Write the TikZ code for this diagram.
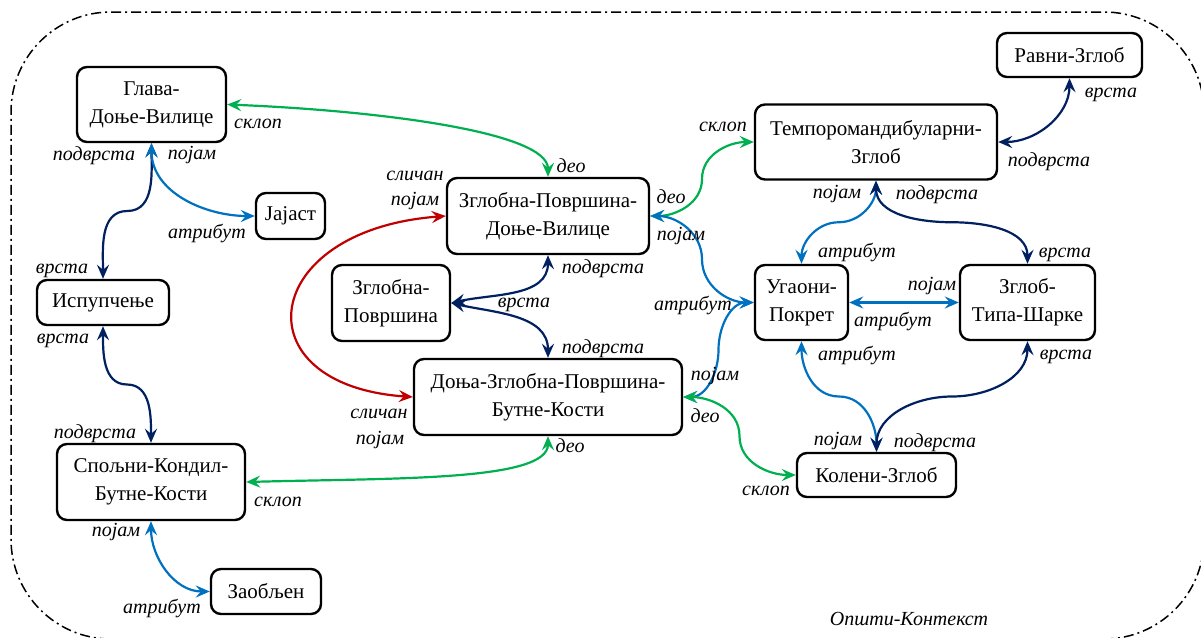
\documentclass[tikz,border=0pt]{standalone}
\usepackage{fontspec}
\setmainfont{Liberation Serif}
\usetikzlibrary{arrows.meta,calc}
\definecolor{cgreen}{RGB}{0,176,80}
\definecolor{cblue}{RGB}{0,112,192}
\definecolor{cnavy}{RGB}{0,32,96}
\definecolor{cred}{RGB}{192,0,0}

\begin{document}
\begin{tikzpicture}[x=1pt,y=1pt,
  box/.style={draw, line width=2.4pt, rounded corners=10pt, inner sep=0pt,
    align=center, font=\fontsize{21}{28}\selectfont},
  lbl/.style={anchor=base, inner sep=0pt, font=\fontsize{20}{25}\selectfont\itshape},
  link/.style={line width=2.2pt,
    {Stealth[length=14pt,width=12pt,inset=5pt]}-{Stealth[length=14pt,width=12pt,inset=5pt]}},
  partof/.style={link, draw=cgreen},
  kindof/.style={link, draw=cnavy},
  attrof/.style={link, draw=cblue},
  similar/.style={link, draw=cred},
  ctxframe/.style={line width=1.5pt, dash pattern=on 10pt off 4pt on 2pt off 4pt}
]
\useasboundingbox (0,0) rectangle (1201,-637);

% context frame: its right and bottom sides run along the page edge
\draw[ctxframe] (1204,-112) arc[start angle=0,end angle=90,radius=100]
  -- (111,-12) arc[start angle=90,end angle=180,radius=100]
  -- (11,-539) arc[start angle=180,end angle=270,radius=100];
\draw[ctxframe] (1104,-639) arc[start angle=270,end angle=360,radius=100];
\node[lbl] (ctx) at (909,-625) {Општи-Контекст};

% concepts
\node[box, minimum width=149pt, minimum height=75pt] (glava)  at (151.5,-104.5) {Глава-\\Доње-Вилице};
\node[box, minimum width=69pt,  minimum height=46pt] (jajast) at (290.5,-216) {Јајаст};
\node[box, minimum width=132pt, minimum height=45pt] (isp)    at (103,-302.5) {Испупчење};
\node[box, minimum width=188pt, minimum height=76pt] (spoljni) at (151,-482) {Спољни-Кондил-\\Бутне-Кости};
\node[box, minimum width=110pt, minimum height=45pt] (zaob)   at (266,-591.5) {Заобљен};
\node[box, minimum width=202pt, minimum height=76pt] (zpdv)   at (548,-216) {Зглобна-Површина-\\Доње-Вилице};
\node[box, minimum width=118pt, minimum height=76pt] (zpov)   at (391,-303) {Зглобна-\\Површина};
\node[box, minimum width=268pt, minimum height=76pt] (donja)  at (548,-397) {Доња-Зглобна-Површина-\\Бутне-Кости};
\node[box, minimum width=242pt, minimum height=75pt] (tempo)  at (876,-142) {Темпоромандибуларни-\\Зглоб};
\node[box, minimum width=145pt, minimum height=44pt] (ravni)  at (1069.5,-55) {Равни-Зглоб};
\node[box, minimum width=93pt,  minimum height=75pt] (ugaoni) at (801.5,-302.5) {Угаони-\\Покрет};
\node[box, minimum width=135pt, minimum height=75pt] (zts)    at (1027.5,-302.5) {Зглоб-\\Типа-Шарке};
\node[box, minimum width=159pt, minimum height=44pt] (koleni) at (876.5,-475) {Колени-Зглоб};

% relations
\draw[partof] (glava.east) .. controls +(150,-6) and +(0,45) .. (zpdv.north);
\node[lbl] (l1a) at (258,-128) {склоп};
\node[lbl] (l1b) at (571,-172) {део};

\draw[kindof] (glava.south) to[out=-90,in=0] ($(glava.south)!.5!(isp.north)$) to[out=180,in=90] (isp.north);
\node[lbl] (l2a) at (94,-160) {подврста};
\node[lbl] (l2b) at (62,-273) {врста};

\draw[attrof] (glava.south) to[out=-90,in=180] (jajast.west);
\node[lbl] (l3a) at (192,-159) {појам};
\node[lbl] (l3b) at (207,-238) {атрибут};

\draw[kindof] (isp.south) to[out=-90,in=180] ($(isp.south)!.5!(spoljni.north)$) to[out=0,in=90] (spoljni.north);
\node[lbl] (l4a) at (63,-343) {врста};
\node[lbl] (l4b) at (95,-438) {подврста};

\draw[partof] (spoljni.east) .. controls +(150,4) and +(0,-45) .. (donja.south);
\node[lbl] (l5a) at (278,-506) {склоп};
\node[lbl] (l5b) at (570,-452) {део};

\draw[attrof] (spoljni.south) to[out=-90,in=180] (zaob.west);
\node[lbl] (l6a) at (116,-536) {појам};
\node[lbl] (l6b) at (162,-613) {атрибут};

\draw[similar] (zpdv.west) .. controls +(-187,-14) and +(-174,12) .. (donja.west);
\node[lbl] (l7a) at (415,-180) {сличан};
\node[lbl] (l7b) at (415,-205) {појам};
\node[lbl] (l7c) at (379,-418) {сличан};
\node[lbl] (l7d) at (380,-444) {појам};

\draw[kindof] (zpov.east) to[out=13,in=-90] (zpdv.south);
\draw[kindof] (zpov.east) to[out=-13,in=90] (donja.north);
\node[lbl] (l8a) at (524,-307) {врста};
\node[lbl] (l8b) at (603,-273) {подврста};
\node[lbl] (l9b) at (603,-353) {подврста};

\draw[partof] (zpdv.east) to[out=0,in=-90] ($(zpdv.east)!.5!(tempo.west)$) to[out=90,in=180] (tempo.west);
\node[lbl] (l10a) at (671,-203) {део};
\node[lbl] (l10b) at (723,-131) {склоп};

\draw[attrof] (zpdv.east) to[out=0,in=90] ($(zpdv.east)!.5!(ugaoni.west)$) to[out=-90,in=180] (ugaoni.west);
\node[lbl] (l11a) at (681,-240) {појам};
\node[lbl] (l11b) at (693,-310) {атрибут};

\draw[attrof] (donja.east) to[out=0,in=-90] ($(donja.east)!.5!(ugaoni.west)$) to[out=90,in=180] (ugaoni.west);
\node[lbl] (l12a) at (715,-380) {појам};

\draw[partof] (donja.east) to[out=0,in=90] ($(donja.east)!.5!(koleni.west)$) to[out=-90,in=180] (koleni.west);
\node[lbl] (l13a) at (705,-422) {део};
\node[lbl] (l13b) at (766,-495) {склоп};

\draw[attrof] (tempo.south) to[out=-90,in=0] ($(tempo.south)!.5!(ugaoni.north)$) to[out=180,in=90] (ugaoni.north);
\node[lbl] (l14a) at (837,-198) {појам};
\node[lbl] (l14b) at (857,-257) {атрибут};

\draw[kindof] (tempo.south) to[out=-90,in=180] ($(tempo.south)!.5!(zts.north)$) to[out=0,in=90] (zts.north);
\node[lbl] (l15a) at (937,-199) {подврста};
\node[lbl] (l15b) at (1065,-257) {врста};

\draw[kindof] (tempo.east) to[out=0,in=-90] (ravni.south);
\node[lbl] (l16a) at (1049,-166) {подврста};
\node[lbl] (l16b) at (1111,-97) {врста};

\draw[attrof] (ugaoni.east) -- (zts.west);
\node[lbl] (l17a) at (893,-326) {атрибут};
\node[lbl] (l17b) at (932,-290) {појам};

\draw[attrof] (ugaoni.south) to[out=-90,in=180] ($(ugaoni.south)!.5!(koleni.north)$) to[out=0,in=90] (koleni.north);
\node[lbl] (l18a) at (857,-360) {атрибут};
\node[lbl] (l18b) at (838,-445) {појам};

\draw[kindof] (zts.south) to[out=-90,in=0] ($(zts.south)!.5!(koleni.north)$) to[out=180,in=90] (koleni.north);
\node[lbl] (l19a) at (1066,-359) {врста};
\node[lbl] (l19b) at (935,-447) {подврста};
\end{tikzpicture}
\end{document}
